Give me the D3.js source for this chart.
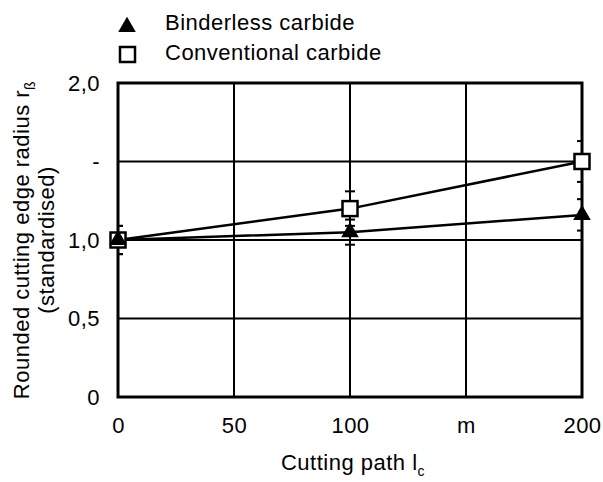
<!DOCTYPE html>
<html>
<head>
<meta charset="utf-8">
<script src="https://cdn.jsdelivr.net/npm/d3@7"></script>
<style>
  body { margin: 0; background: #fff; }
  text { font-family: "Liberation Sans", Arial, sans-serif; fill: #000; font-size: 22px; letter-spacing: 0.5px; }
</style>
</head>
<body>
<div id="chart"></div>
<script>
// cutting path (m) and standardised edge radius
const paths = [0, 100, 200]
const binderless = [1.0, 1.05, 1.16]
const binderlessErr = [0.09, 0.08, 0.10]
const conventional = [1.0, 1.2, 1.5]
const conventionalErr = [0.09, 0.11, 0.13]
const xTicks = [0, 50, 100, 150, 200]
const xTickLabels = ["0", "50", "100", "m", "200"]
const yTicks = [0, 0.5, 1.0, 1.5, 2.0]
const yTickLabels = ["0", "0,5", "1,0", "-", "2,0"]

const svg = d3.select("#chart")
    .append("svg")
    .attr("width", 603)
    .attr("height", 482)

const x = d3.scaleLinear().domain([0, 200]).range([118, 582])
const y = d3.scaleLinear().domain([0, 2]).range([397, 83])

// grid
svg.append("g").selectAll("line")
    .data(yTicks.slice(1, 4))
    .enter().append("line")
    .attr("x1", x(0)).attr("x2", x(200))
    .attr("y1", d => y(d)).attr("y2", d => y(d))
    .attr("stroke", "#000").attr("stroke-width", 2)

svg.append("g").selectAll("line")
    .data(xTicks.slice(1, 4))
    .enter().append("line")
    .attr("x1", d => x(d)).attr("x2", d => x(d))
    .attr("y1", y(0)).attr("y2", y(2))
    .attr("stroke", "#000").attr("stroke-width", 2)

// axes labels (no tick marks)
const xAxis = d3.axisBottom(x).tickValues(xTicks).tickSize(0).tickPadding(20)
    .tickFormat((d, i) => xTickLabels[i])
const gx = svg.append("g").attr("transform", `translate(0, ${y(0)})`).call(xAxis)
gx.select(".domain").remove()

const yAxis = d3.axisLeft(y).tickValues(yTicks).tickSize(0).tickPadding(18)
    .tickFormat((d, i) => yTickLabels[i])
const gy = svg.append("g").attr("transform", `translate(${x(0)}, 0)`).call(yAxis)
gy.select(".domain").remove()

// clip for error caps
svg.append("clipPath").attr("id", "plot")
    .append("rect").attr("x", x(0)).attr("y", 0).attr("width", x(200) - x(0)).attr("height", 482)

const series = [
    { vals: conventional, err: conventionalErr, shape: "square" },
    { vals: binderless, err: binderlessErr, shape: "triangle" }
]

// error bars
series.forEach(s => {
    const g = svg.append("g").attr("clip-path", "url(#plot)")
    paths.forEach((p, i) => {
        g.append("line")
            .attr("x1", x(p)).attr("x2", x(p))
            .attr("y1", y(s.vals[i] - s.err[i])).attr("y2", y(s.vals[i] + s.err[i]))
            .attr("stroke", "#000").attr("stroke-width", 2)
        ;[s.vals[i] - s.err[i], s.vals[i] + s.err[i]].forEach(v => {
            g.append("line")
                .attr("x1", x(p) - 5).attr("x2", x(p) + 5)
                .attr("y1", y(v)).attr("y2", y(v))
                .attr("stroke", "#000").attr("stroke-width", 2)
        })
    })
})

// lines
const line = d3.line().x((d, i) => x(paths[i])).y(d => y(d))
series.forEach(s => {
    svg.append("path")
        .attr("d", line(s.vals))
        .attr("fill", "none").attr("stroke", "#000").attr("stroke-width", 2.5)
})

// frame
svg.append("rect")
    .attr("x", x(0)).attr("y", y(2))
    .attr("width", x(200) - x(0)).attr("height", y(0) - y(2))
    .attr("fill", "none").attr("stroke", "#000").attr("stroke-width", 3)

// markers
const triangle = d3.symbol().type(d3.symbolTriangle).size(135)
function drawMarker(g, shape, cx, cy) {
    if (shape === "square") {
        g.append("rect")
            .attr("x", cx - 7.5).attr("y", cy - 7.5).attr("width", 15).attr("height", 15)
            .attr("fill", "#fff").attr("stroke", "#000").attr("stroke-width", 2.5)
    } else {
        g.append("path")
            .attr("d", triangle())
            .attr("transform", `translate(${cx}, ${cy})`)
            .attr("fill", "#000")
    }
}
series.forEach(s => {
    const g = svg.append("g")
    paths.forEach((p, i) => drawMarker(g, s.shape, x(p), y(s.vals[i])))
})

// legend
const legend = svg.append("g")
drawMarker(legend, "triangle", 127, 27)
drawMarker(legend, "square", 127.5, 54.5)
legend.append("text").attr("x", 165).attr("y", 30).text("Binderless carbide")
legend.append("text").attr("x", 165).attr("y", 60).text("Conventional carbide")

// x title
const xt = svg.append("text")
    .attr("x", 353).attr("y", 470)
    .attr("text-anchor", "middle")
xt.append("tspan").text("Cutting path l")
xt.append("tspan").attr("dy", 6).style("font-size", "14px").text("c")

// y title
const yt = svg.append("g").attr("transform", "translate(29, 240) rotate(-90)")
const yt1 = yt.append("text").attr("text-anchor", "middle")
yt1.append("tspan").text("Rounded cutting edge radius r")
yt1.append("tspan").attr("dy", 6).style("font-size", "14px").text("ß")
yt.append("text").attr("y", 25).attr("text-anchor", "middle").text("(standardised)")
</script>
</body>
</html>
